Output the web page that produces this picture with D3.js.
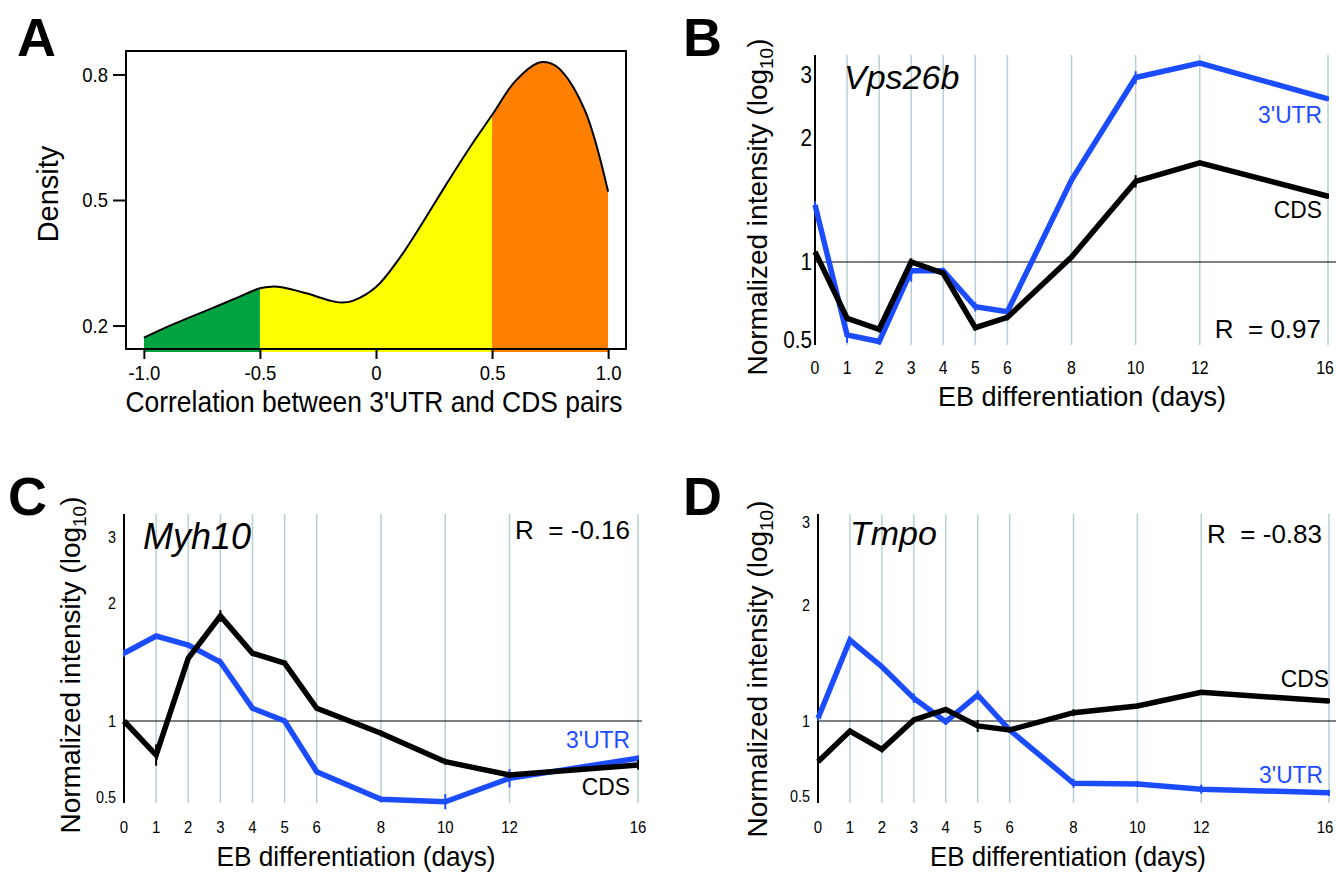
<!DOCTYPE html>
<html>
<head>
<meta charset="utf-8">
<script src="https://cdn.jsdelivr.net/npm/d3@7"></script>
<style>
  body { margin: 0; background: #fff; }
  text { font-family: "Liberation Sans", Arial, Helvetica, sans-serif; fill: #000; }
</style>
</head>
<body>
<svg id="fig" width="1336" height="872"></svg>
<script>
// ---- panel A: density of 3'UTR / CDS correlations ----
var densityX = [-1.0, -0.9, -0.8, -0.7, -0.6, -0.5, -0.45, -0.4, -0.3, -0.2, -0.15, -0.1, 0.0, 0.1, 0.2, 0.3, 0.4, 0.5, 0.6, 0.7, 0.75, 0.8, 0.9, 1.0];
var densityY = [0.171, 0.197, 0.220, 0.243, 0.266, 0.289, 0.293, 0.291, 0.277, 0.260, 0.255, 0.259, 0.292, 0.360, 0.445, 0.535, 0.622, 0.703, 0.784, 0.828, 0.827, 0.808, 0.714, 0.520];
var bandEdges = [-1.0, -0.5, 0.5, 1.0];
var densityXTicks = [-1, -0.5, 0, 0.5, 1];
var densityXLabels = ['-1.0', '-0.5', '0', '0.5', '1.0'];
var densityYTicks = [0.2, 0.5, 0.8];

// ---- panels B-D: time courses ----
var days = [0, 1, 2, 3, 4, 5, 6, 8, 10, 12, 16];
var intensityTicks = [0.5, 1, 2, 3];

var vps26bUTR = [1.46, 0.532, 0.49, 0.944, 0.944, 0.713, 0.681, 1.66, 2.96, 3.19, 2.62];
var vps26bCDS = [1.083, 0.639, 0.569, 1.0, 0.928, 0.579, 0.645, 1.04, 1.65, 1.80, 1.53];
var vps26bUTRErr = [0.03, 0.05, 0.02, 0.07, 0.02, 0.03, 0.02, 0.03, 0.10, 0.03, 0.03];
var vps26bCDSErr = [0.03, 0.02, 0.02, 0.03, 0.02, 0.02, 0.02, 0.02, 0.05, 0.02, 0.02];

var myh10UTR = [1.574, 1.72, 1.644, 1.50, 1.108, 1.0, 0.666, 0.485, 0.469, 0.623, 0.755];
var myh10CDS = [1.0, 0.776, 1.531, 1.89, 1.574, 1.49, 1.108, 0.919, 0.732, 0.645, 0.711];
var myh10UTRErr = [0.03, 0.02, 0.02, 0.03, 0.02, 0.02, 0.02, 0.02, 0.05, 0.06, 0.02];
var myh10CDSErr = [0.06, 0.07, 0.03, 0.05, 0.02, 0.02, 0.02, 0.02, 0.02, 0.02, 0.03];

var tmpoUTR = [1.023, 1.698, 1.468, 1.196, 0.995, 1.224, 0.94, 0.585, 0.58, 0.545, 0.522];
var tmpoCDS = [0.729, 0.933, 0.811, 1.009, 1.10, 0.967, 0.94, 1.072, 1.13, 1.247, 1.172];
var tmpoUTRErr = [0.02, 0.02, 0.02, 0.04, 0.02, 0.04, 0.02, 0.03, 0.02, 0.03, 0.02];
var tmpoCDSErr = [0.03, 0.02, 0.02, 0.02, 0.02, 0.04, 0.02, 0.03, 0.02, 0.02, 0.02];

var BLUE = '#1c4cff';
var GRID = '#b9cfd2';
var FONT = '"Liberation Sans", Arial, Helvetica, sans-serif';

var svg = d3.select('#fig');
svg.append('rect').attr('width', 1336).attr('height', 872).attr('fill', '#fff');

// squeeze text horizontally, the source figure uses a narrow face
function condense(sel, f) {
  sel.each(function () {
    var w = this.getComputedTextLength();
    d3.select(this).attr('textLength', w * f).attr('lengthAdjust', 'spacingAndGlyphs');
  });
}

function panelLetter(txt, x, y) {
  svg.append('text').attr('x', x).attr('y', y)
    .style('font-size', '54px').style('font-weight', 'bold').text(txt);
}

// ================= Panel A =================
(function () {
  var left = 126, right = 626, top = 51, bottom = 349;
  var x = d3.scaleLinear().domain([-1.077, 1.077]).range([left, right]);
  var y = d3.scaleLinear().domain([0.144, 0.856]).range([bottom, top]);
  var pts = densityX.map(function (v, i) { return [v, densityY[i]]; });

  var defs = svg.append('defs');
  var bandColors = ['#00a33f', '#ffff00', '#ff8000'];
  for (var b = 0; b < bandEdges.length - 1; b++) {
    defs.append('clipPath').attr('id', 'band' + b)
      .append('rect')
      .attr('x', x(bandEdges[b])).attr('y', top)
      .attr('width', x(bandEdges[b + 1]) - x(bandEdges[b]))
      .attr('height', bottom - top + 3);
  }
  var area = d3.area()
    .x(function (d) { return x(d[0]); })
    .y0(bottom + 3)
    .y1(function (d) { return y(d[1]); })
    .curve(d3.curveCatmullRom.alpha(0.5));
  for (var k = 0; k < 3; k++) {
    svg.append('path').datum(pts).attr('d', area)
      .attr('fill', bandColors[k]).attr('clip-path', 'url(#band' + k + ')');
  }
  var line = d3.line()
    .x(function (d) { return x(d[0]); })
    .y(function (d) { return y(d[1]); })
    .curve(d3.curveCatmullRom.alpha(0.5));
  svg.append('path').datum(pts).attr('d', line)
    .attr('fill', 'none').attr('stroke', '#000').attr('stroke-width', 2);

  // frame
  svg.append('rect').attr('x', left).attr('y', top)
    .attr('width', right - left).attr('height', bottom - top)
    .attr('fill', 'none').attr('stroke', '#000').attr('stroke-width', 2);

  // axes
  var xAxis = d3.axisBottom(x).tickValues(densityXTicks)
    .tickFormat(function (d, i) { return densityXLabels[i]; })
    .tickSize(10).tickPadding(6);
  var gx = svg.append('g').attr('transform', 'translate(0,' + bottom + ')').call(xAxis);
  gx.select('.domain').remove();
  gx.selectAll('line').attr('stroke-width', 2);
  gx.selectAll('text').style('font-size', '21px').style('font-family', FONT).call(condense, 0.88);

  var yAxis = d3.axisLeft(y).tickValues(densityYTicks).tickFormat(d3.format('.1f'))
    .tickSize(13).tickPadding(5);
  var gy = svg.append('g').attr('transform', 'translate(' + left + ',0)').call(yAxis);
  gy.select('.domain').remove();
  gy.selectAll('line').attr('stroke-width', 2);
  gy.selectAll('text').style('font-size', '21px').style('font-family', FONT).call(condense, 0.88);

  svg.append('text').attr('x', 374).attr('y', 412).attr('text-anchor', 'middle')
    .attr('textLength', 497).attr('lengthAdjust', 'spacingAndGlyphs')
    .style('font-size', '29px').text("Correlation between 3'UTR and CDS pairs");
  svg.append('text').attr('transform', 'translate(58,194) rotate(-90)')
    .attr('text-anchor', 'middle').style('font-size', '29px').text('Density');

  panelLetter('A', 17, 56);
})();

// ================= Panels B-D =================
function timeCourse(cfg) {
  var x = d3.scaleLinear().domain([0, 16]).range([cfg.x0, cfg.x1]);
  var y = d3.scaleLinear().domain(intensityTicks).range(cfg.tickY);
  var g = svg.append('g');

  // vertical guide lines at each sampled day
  g.selectAll('line.grid').data(days.filter(function (d) { return d > 0; }))
    .enter().append('line')
    .attr('x1', function (d) { return x(d); }).attr('x2', function (d) { return x(d); })
    .attr('y1', cfg.top).attr('y2', cfg.bottom)
    .attr('stroke', GRID).attr('stroke-width', 1.5);

  // reference line at 1
  g.append('line').attr('x1', cfg.x0).attr('x2', cfg.lineEnd)
    .attr('y1', y(1)).attr('y2', y(1))
    .attr('stroke', '#000').attr('stroke-width', 1.2);

  // y axis line
  g.append('line').attr('x1', cfg.x0).attr('x2', cfg.x0)
    .attr('y1', cfg.top).attr('y2', cfg.bottom)
    .attr('stroke', '#000').attr('stroke-width', 2);

  // y tick labels (no tick marks)
  g.selectAll('text.yt').data(intensityTicks).enter().append('text')
    .attr('x', cfg.x0 - cfg.yLabelGap)
    .attr('y', function (d, i) { return cfg.tickY[i]; })
    .attr('dy', '0.36em').attr('text-anchor', 'end')
    .style('font-size', cfg.yTickSize + 'px')
    .text(function (d) { return d; })
    .call(condense, 0.9);

  // x tick labels; the last one is kept inside the page edge
  g.selectAll('text.xt').data(days).enter().append('text')
    .attr('x', function (d) { return Math.min(x(d), 1325); })
    .attr('y', cfg.xLabelY).attr('text-anchor', 'middle')
    .style('font-size', cfg.xTickSize + 'px')
    .text(function (d) { return d; })
    .call(condense, 0.88);

  var line = d3.line()
    .x(function (d, i) { return x(days[i]); })
    .y(function (d) { return y(d); });

  function series(vals, errs, color) {
    g.selectAll(null).data(vals).enter().append('line')
      .attr('x1', function (d, i) { return x(days[i]); })
      .attr('x2', function (d, i) { return x(days[i]); })
      .attr('y1', function (d, i) { return y(d + errs[i]); })
      .attr('y2', function (d, i) { return y(d - errs[i]); })
      .attr('stroke', color).attr('stroke-width', 2);
    g.append('path').datum(vals).attr('d', line)
      .attr('fill', 'none').attr('stroke', color)
      .attr('stroke-width', 5.5).attr('stroke-linejoin', 'miter');
  }
  series(cfg.utr, cfg.utrErr, BLUE);
  series(cfg.cds, cfg.cdsErr, '#000');

  // labels
  g.append('text').attr('x', cfg.gene[1]).attr('y', cfg.gene[2])
    .style('font-size', cfg.gene[3] + 'px').style('font-style', 'italic').text(cfg.gene[0]);
  g.append('text').attr('x', cfg.r[1]).attr('y', cfg.r[2]).attr('text-anchor', 'end')
    .attr('xml:space', 'preserve')
    .style('font-size', '26px').text(cfg.r[0]);
  g.append('text').attr('x', cfg.utrLabel[0]).attr('y', cfg.utrLabel[1]).attr('text-anchor', 'end')
    .style('font-size', '24px').style('fill', BLUE).text("3'UTR").call(condense, 0.95);
  g.append('text').attr('x', cfg.cdsLabel[0]).attr('y', cfg.cdsLabel[1]).attr('text-anchor', 'end')
    .style('font-size', '24px').text('CDS').call(condense, 0.95);

  // axis titles
  g.append('text').attr('x', cfg.xTitle[0]).attr('y', cfg.xTitle[1]).attr('text-anchor', 'middle')
    .attr('textLength', cfg.xTitle[2]).attr('lengthAdjust', 'spacingAndGlyphs')
    .style('font-size', '28px').text('EB differentiation (days)');
  var yt = g.append('text')
    .attr('transform', 'translate(' + cfg.yTitle[0] + ',' + cfg.yTitle[1] + ') rotate(-90)')
    .attr('text-anchor', 'middle').style('font-size', '28px');
  yt.append('tspan').text('Normalized intensity (log');
  yt.append('tspan').attr('dy', 6).style('font-size', '19px').text('10');
  yt.append('tspan').attr('dy', -6).text(')');

  panelLetter(cfg.letter[0], cfg.letter[1], cfg.letter[2]);
}

timeCourse({
  letter: ['B', 683, 56],
  x0: 815, x1: 1328, top: 55, bottom: 345, lineEnd: 1336,
  tickY: [340, 262, 138, 75],
  yTickSize: 23, yLabelGap: 3, xTickSize: 18, xLabelY: 374,
  utr: vps26bUTR, cds: vps26bCDS, utrErr: vps26bUTRErr, cdsErr: vps26bCDSErr,
  gene: ['Vps26b', 844, 89, 34], r: ['R  = 0.97', 1321, 338],
  utrLabel: [1322, 123], cdsLabel: [1322, 218],
  xTitle: [1082, 406, 288], yTitle: [767, 207]
});

timeCourse({
  letter: ['C', 8, 515],
  x0: 124, x1: 638, top: 514, bottom: 803, lineEnd: 642,
  tickY: [797, 721, 603, 537],
  yTickSize: 16, yLabelGap: 8, xTickSize: 17, xLabelY: 833,
  utr: myh10UTR, cds: myh10CDS, utrErr: myh10UTRErr, cdsErr: myh10CDSErr,
  gene: ['Myh10', 143, 549, 36], r: ['R  = -0.16', 630, 539],
  utrLabel: [630, 748], cdsLabel: [630, 795],
  xTitle: [356, 866, 279], yTitle: [80, 665]
});

timeCourse({
  letter: ['D', 683, 515],
  x0: 818, x1: 1329, top: 514, bottom: 803, lineEnd: 1336,
  tickY: [796, 721, 605, 522],
  yTickSize: 16, yLabelGap: 8, xTickSize: 17, xLabelY: 833,
  utr: tmpoUTR, cds: tmpoCDS, utrErr: tmpoUTRErr, cdsErr: tmpoCDSErr,
  gene: ['Tmpo', 850, 545, 34], r: ['R  = -0.83', 1322, 543],
  utrLabel: [1323, 783], cdsLabel: [1329, 687],
  xTitle: [1068, 866, 276], yTitle: [767, 669]
});
</script>
</body>
</html>
